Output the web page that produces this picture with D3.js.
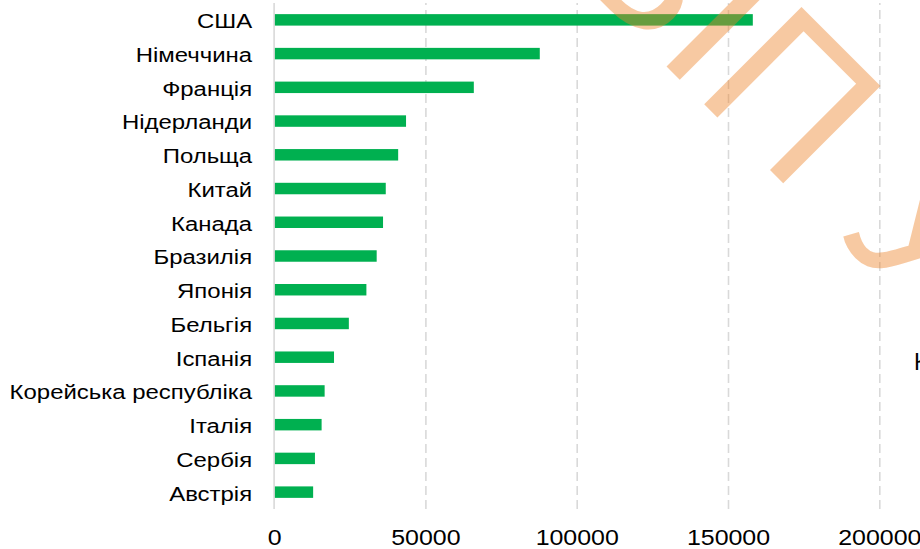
<!DOCTYPE html>
<html>
<head>
<meta charset="utf-8">
<script src="https://cdn.jsdelivr.net/npm/d3@7"></script>
<style>
  html, body { margin: 0; padding: 0; background: #ffffff; }
  svg { display: block; font-family: "Liberation Sans", Arial, sans-serif; }
</style>
</head>
<body>
<svg id="chart" width="920" height="549"></svg>
<script>
// ---- data ----
const countries = ["США", "Німеччина", "Франція", "Нідерланди", "Польща", "Китай", "Канада",
  "Бразилія", "Японія", "Бельгія", "Іспанія", "Корейська республіка", "Італія", "Сербія", "Австрія"];
const values = [158200, 87800, 66000, 43600, 41000, 36900, 36000, 33900, 30500, 24700, 19800, 16700, 15700, 13500, 12900];
const xTicks = [0, 50000, 100000, 150000, 200000];
const watermarkBefore = "ВІ";
const watermarkAfter = "П УКРАЇНИ";
const sideLabel = "Кількість";

// ---- layout ----
const svg = d3.select("#chart");
const x = d3.scaleLinear().domain([0, 200000]).range([274.1, 879.3]);
const y = d3.scaleBand().domain(countries).range([3, 509]).paddingInner(0.66).paddingOuter(0.33);

// gridlines
const grid = svg.append("g").attr("class", "grid")
  .attr("transform", "translate(0,509)")
  .call(d3.axisBottom(x).tickValues(xTicks.slice(1)).tickSize(-506).tickFormat(""));
grid.select(".domain").remove();
grid.selectAll(".tick line")
  .attr("stroke", "#d9d9d9").attr("stroke-width", 1.6).attr("stroke-dasharray", "9,5");

// bars
svg.append("g").selectAll("rect").data(countries).join("rect")
  .attr("x", x(0))
  .attr("y", d => y(d))
  .attr("width", (d, i) => x(values[i]) - x(0))
  .attr("height", y.bandwidth())
  .attr("fill", "#00B050");

// vertical axis line at 0
svg.append("line")
  .attr("x1", x(0)).attr("x2", x(0)).attr("y1", 3).attr("y2", 509)
  .attr("stroke", "#d9d9d9").attr("stroke-width", 1.6);

// category labels
const pad = 22;
const yAxis = svg.append("g")
  .attr("transform", `translate(${x(0)},0)`)
  .call(d3.axisLeft(y).tickSize(0).tickPadding(pad));
yAxis.select(".domain").remove();
yAxis.selectAll("text")
  .attr("font-size", 21).attr("fill", "#000").attr("dy", "0.4em")
  .attr("font-family", "Liberation Sans, Arial, sans-serif")
  .attr("transform", `translate(${-pad},0) scale(1.14,1) translate(${pad},0)`);

// x tick labels
const xAxis = svg.append("g")
  .attr("transform", "translate(0,509)")
  .call(d3.axisBottom(x).tickValues(xTicks).tickSize(0).tickPadding(20.5).tickFormat(d3.format("d")));
xAxis.select(".domain").remove();
xAxis.selectAll("text")
  .attr("font-size", 21.5).attr("fill", "#000")
  .attr("font-family", "Liberation Sans, Arial, sans-serif")
  .attr("transform", "scale(1.16,1)");

// cut-off side label
svg.append("text")
  .attr("x", 914).attr("y", 370)
  .attr("font-size", 23).attr("fill", "#000")
  .text(sideLabel);

// watermark
const wm = svg.append("g").attr("transform", "translate(692.7,92.7) rotate(45)")
  .attr("fill", "#EC8228").attr("fill-opacity", 0.43)
  .attr("font-size", 200).attr("font-family", "Liberation Sans, Arial, sans-serif");
wm.append("text").attr("text-anchor", "end").text(watermarkBefore);
wm.append("text").attr("text-anchor", "start").text(watermarkAfter);
</script>
</body>
</html>
